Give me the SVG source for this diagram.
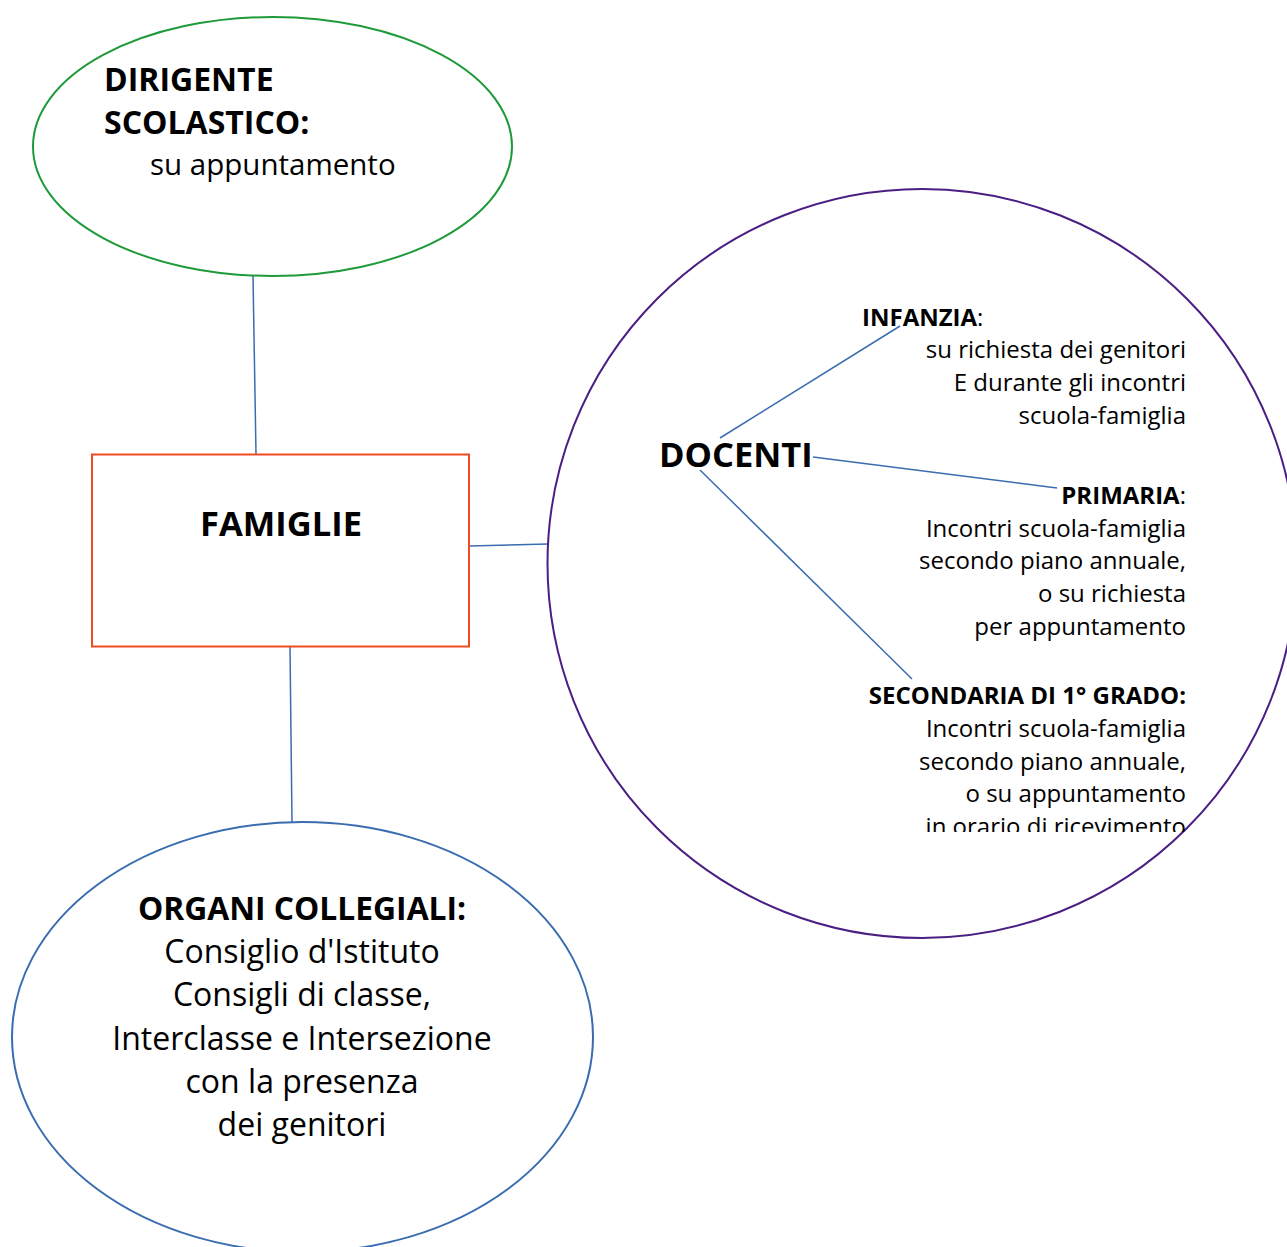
<svg xmlns="http://www.w3.org/2000/svg" width="1287" height="1247" viewBox="0 0 1287 1247">
<defs>
<style>
text{font-family:"Open Sans","Noto Sans","Liberation Sans",sans-serif;fill:#000}
.b{font-weight:bold}
.conn{stroke:#3A6CB0;stroke-width:1.5;fill:none}
.r{text-anchor:end}
.m{text-anchor:middle}
</style>
<clipPath id="clipDoc"><rect x="548" y="189" width="739" height="643"/></clipPath>
</defs>
<rect width="1287" height="1247" fill="#fff"/>
<g id="connectors">
<line class="conn" x1="253" y1="276" x2="256" y2="454"/>
<line class="conn" x1="469" y1="546" x2="548" y2="544"/>
<line class="conn" x1="290" y1="647" x2="292" y2="822"/>
<line class="conn" x1="720" y1="438" x2="900" y2="326"/>
<line class="conn" x1="813" y1="457" x2="1057" y2="488"/>
<line class="conn" x1="700" y1="470" x2="912" y2="679"/>
</g>
<g id="dirigente">
<ellipse cx="272.5" cy="146.5" rx="239.5" ry="129.5" fill="none" stroke="#1E9A3A" stroke-width="2"/>
<text x="104" y="91" class="b" font-size="32">DIRIGENTE</text>
<text x="104" y="134" class="b" font-size="32">SCOLASTICO:</text>
<text x="150" y="175" font-size="29.5">su appuntamento</text>
</g>
<g id="famiglie">
<rect x="92" y="454.5" width="377" height="192" fill="none" stroke="#F04A23" stroke-width="2"/>
<text x="281" y="536" class="b m" font-size="34.5">FAMIGLIE</text>
</g>
<g id="docenti">
<ellipse cx="922" cy="563.5" rx="374.5" ry="374.5" fill="none" stroke="#4B1E84" stroke-width="2"/>
<text x="659" y="467" class="b" font-size="34.5">DOCENTI</text>
<g clip-path="url(#clipDoc)" font-size="24">
<text x="862" y="326"><tspan class="b">INFANZIA</tspan>:</text>
<text x="1186" y="358" class="r">su richiesta dei genitori</text>
<text x="1186" y="391" class="r">E durante gli incontri</text>
<text x="1186" y="424" class="r">scuola-famiglia</text>
<text x="1186" y="504" class="r"><tspan class="b">PRIMARIA</tspan>:</text>
<text x="1186" y="537" class="r">Incontri scuola-famiglia</text>
<text x="1186" y="569" class="r">secondo piano annuale,</text>
<text x="1186" y="602" class="r">o su richiesta</text>
<text x="1186" y="635" class="r">per appuntamento</text>
<text x="1186" y="704" class="r b">SECONDARIA DI 1° GRADO:</text>
<text x="1186" y="737" class="r">Incontri scuola-famiglia</text>
<text x="1186" y="770" class="r">secondo piano annuale,</text>
<text x="1186" y="802" class="r">o su appuntamento</text>
<text x="1186" y="835" class="r">in orario di ricevimento</text>
</g>
</g>
<g id="organi">
<ellipse cx="302.5" cy="1037" rx="290.5" ry="215" fill="none" stroke="#3A6CB0" stroke-width="2"/>
<text x="302" y="920" class="b m" font-size="31.8">ORGANI COLLEGIALI:</text>
<text x="302" y="963" class="m" font-size="32">Consiglio d'Istituto</text>
<text x="302" y="1006" class="m" font-size="32">Consigli di classe,</text>
<text x="302" y="1050" class="m" font-size="32">Interclasse e Intersezione</text>
<text x="302" y="1093" class="m" font-size="32">con la presenza</text>
<text x="302" y="1136" class="m" font-size="32">dei genitori</text>
</g>
</svg>
